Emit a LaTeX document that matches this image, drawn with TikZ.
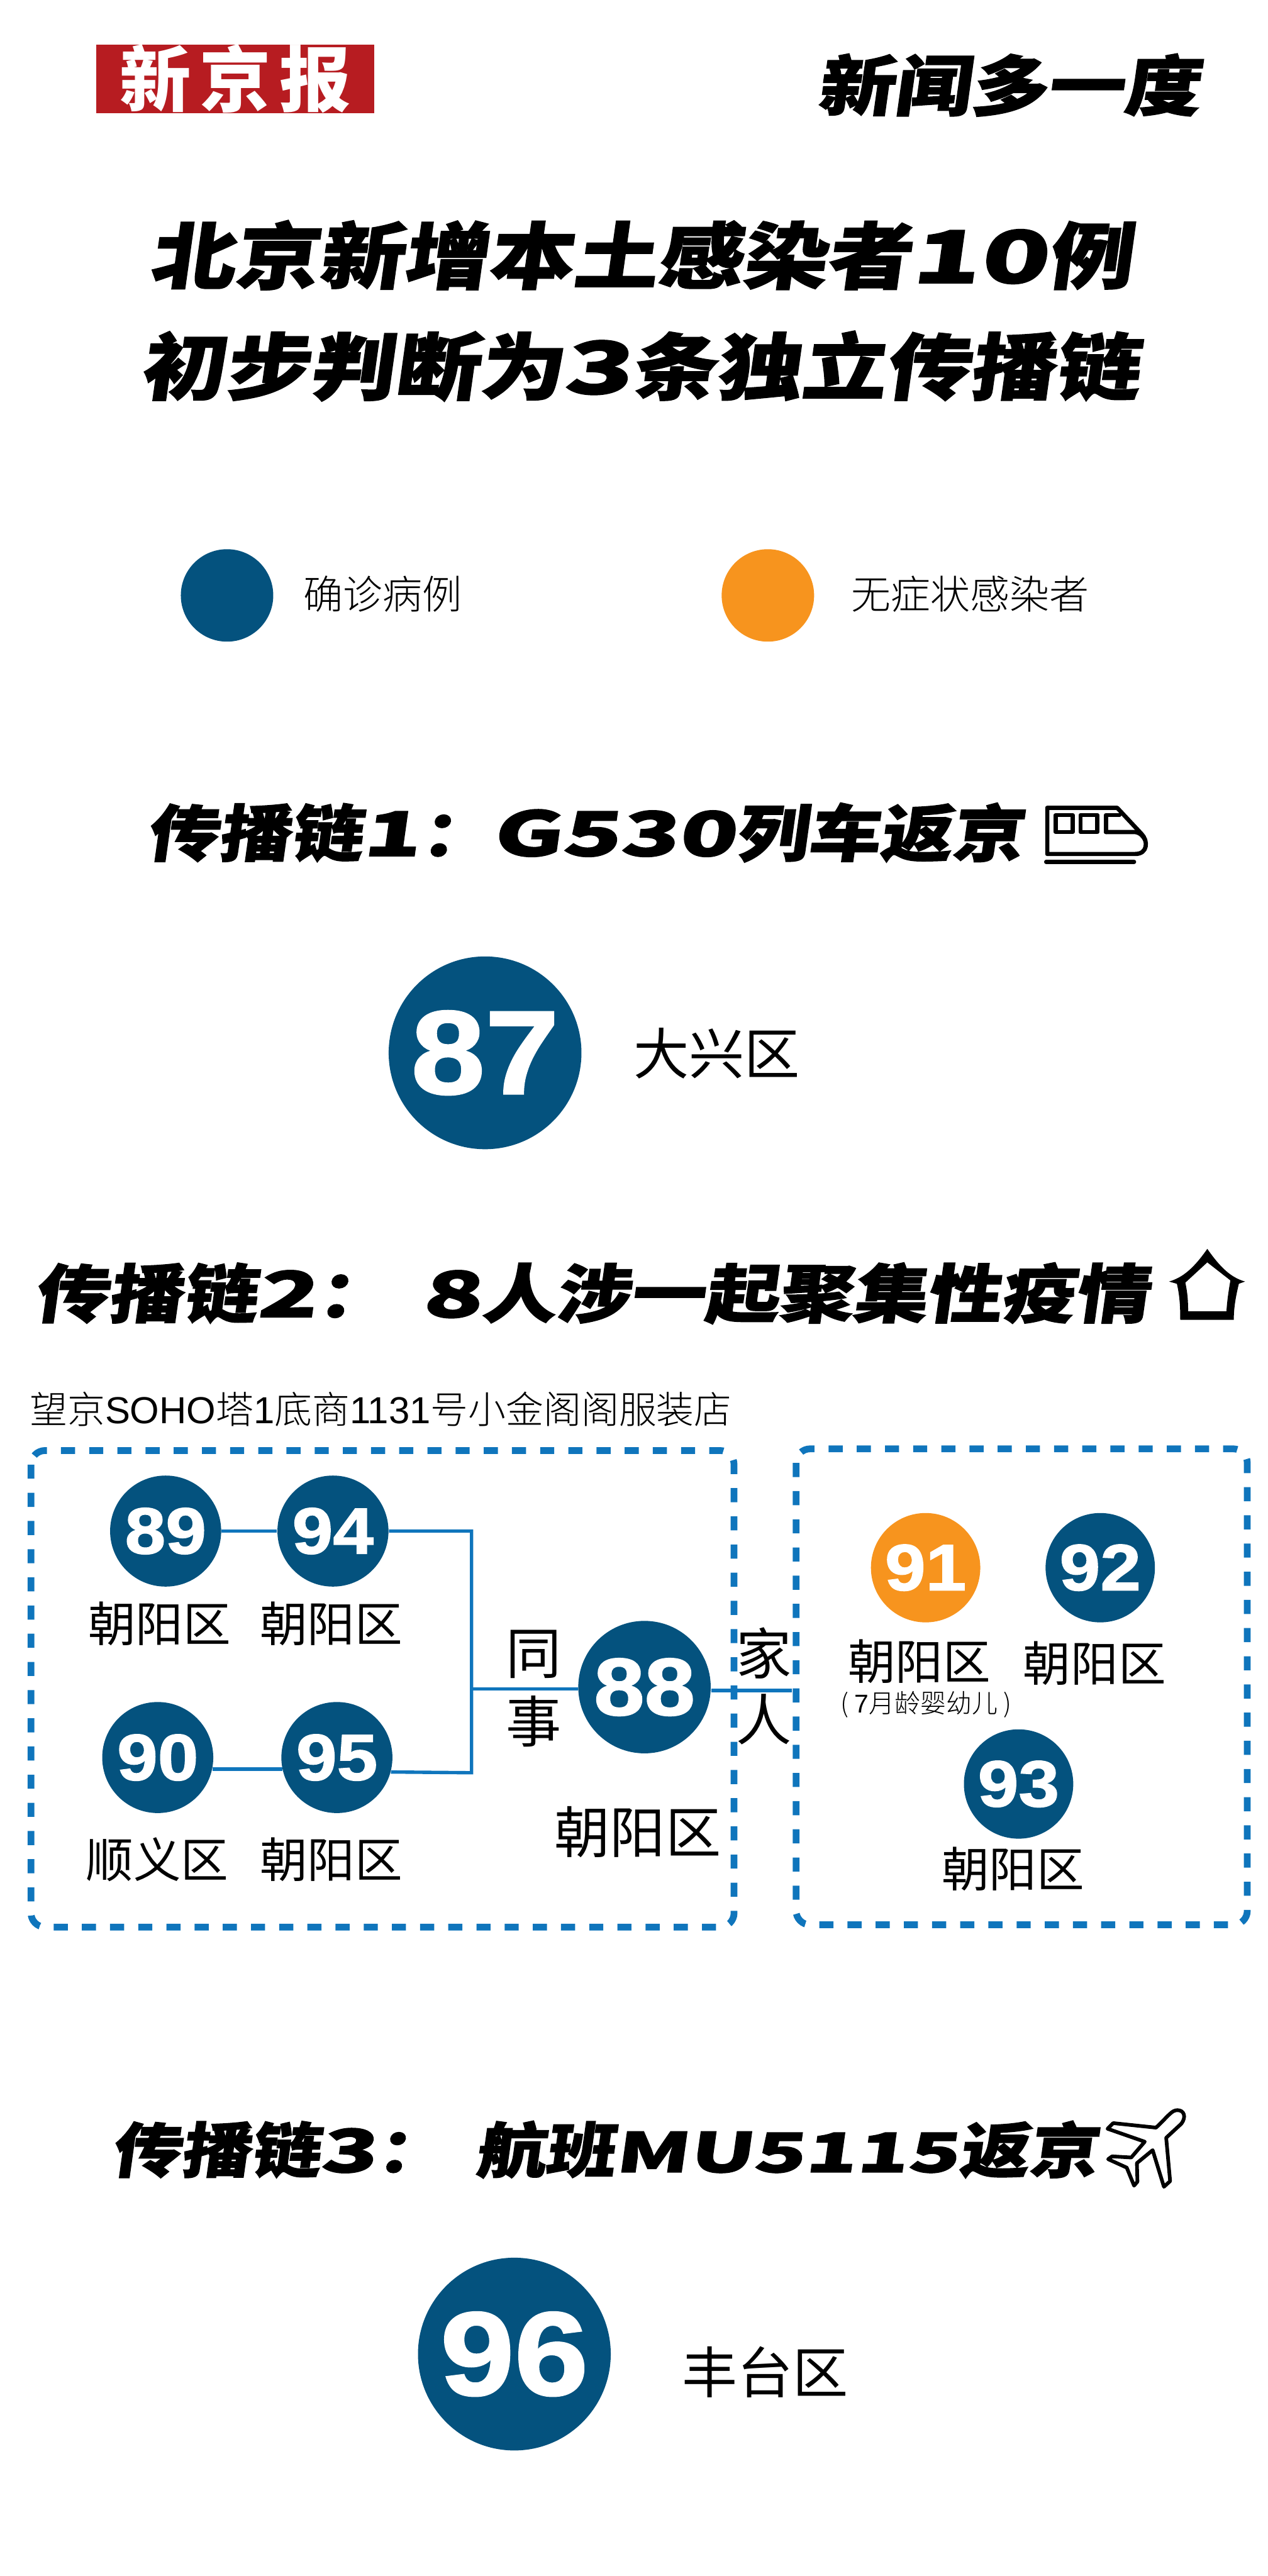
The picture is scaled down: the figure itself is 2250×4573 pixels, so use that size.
\documentclass[tikz,border=0pt]{standalone}
\usepackage{fontspec}
\usepackage{xcolor}
\setmainfont{Noto Sans CJK SC}
\newfontfamily\blackfont[FakeSlant=0.14,FakeStretch=1.17,FakeBold=1.6]{Noto Sans CJK SC Black}
\newfontfamily\widefont[FakeSlant=0.14,FakeStretch=1.55,FakeBold=1.6]{Noto Sans CJK SC Black}
\newfontfamily\lightfont{Noto Sans CJK SC Light}
\newfontfamily\numfont[FakeStretch=1.12,FakeBold=1.5]{Liberation Sans Bold}
\newfontfamily\arialfont{Liberation Sans}
\definecolor{navy}{HTML}{04527E}
\definecolor{amber}{HTML}{F7941E}
\definecolor{logored}{HTML}{B71C21}
\definecolor{boxblue}{HTML}{0F75BC}
\newcommand{\wide}[1]{{\widefont #1}}
\tikzset{
    headline/.style={inner sep=0, font=\blackfont\fontsize{36.5}{36.5}\selectfont},
    chain/.style={inner sep=0, font=\blackfont\fontsize{31}{31}\selectfont},
    legend/.style={inner sep=0, font=\lightfont\fontsize{20}{20}\selectfont},
    place/.style={inner sep=0, font=\fontsize{24}{24}\selectfont},
    bigplace/.style={inner sep=0, font=\fontsize{28}{28}\selectfont},
    case/.style={circle, fill=navy, text=white, inner sep=0, minimum size=1.97cm, font=\numfont\fontsize{33}{33}\selectfont},
    bigcase/.style={case, minimum size=3.42cm, font=\numfont\fontsize{60}{60}\selectfont},
    dashbox/.style={draw=boxblue, line width=0.12cm, dash pattern=on 0.25cm off 0.25cm, rounded corners=0.25cm},
    link/.style={draw=boxblue, line width=0.06cm},
    icon/.style={line width=0.075cm, line join=round, line cap=round},
}
\begin{document}
\begin{tikzpicture}[x=0.01cm, y=-0.01cm]
    \useasboundingbox (0,0) rectangle (2250,4573);
    % masthead
    \node[fill=logored, minimum width=4.93cm, minimum height=1.22cm, inner sep=0, text=white,
        font=\bfseries\fontsize{36}{36}\selectfont] (logo) at (418,140) {新\hspace{0.12em}京\hspace{0.12em}报};
    \node[chain, font=\blackfont\fontsize{33}{33}\selectfont] (column) at (1790,151) {新闻多一度};
    \node[headline] (title1) at (1137,453) {北京新增本土感染者\wide{10}例};
    \node[headline] (title2) at (1135,650) {初步判断为\wide{3}条独立传播链};
    % legend
    \node[circle, fill=navy, minimum size=1.64cm, inner sep=0] (keya) at (403,1057) {};
    \node[legend] (keyatext) at (679,1055) {确诊病例};
    \node[circle, fill=amber, minimum size=1.64cm, inner sep=0] (keyb) at (1363,1057) {};
    \node[legend] (keybtext) at (1722,1055) {无症状感染者};
    % chain 1
    \node[chain] (chain1) at (1038,1478) {传播链\wide{1}：\wide{G530}列车返京};
    \draw[icon] (1859,1434) -- (1983,1434) -- (2026,1480) .. controls (2038,1492) and (2038,1516) .. (2015,1516) -- (1859,1516) -- cycle;
    \draw[icon] (1963,1477) -- (2013,1477) .. controls (2024,1477) and (2030,1486) .. (2033,1492);
    \draw[icon] (1874,1447) rectangle (1904,1477);
    \draw[icon] (1918,1447) rectangle (1948,1477);
    \draw[icon] (1987,1447) -- (1963,1447) -- (1963,1477);
    \draw[icon] (1857,1530) -- (2013,1530);
    \node[bigcase] (n87) at (861,1869) {87};
    \node[bigplace] (n87place) at (1272,1870) {大兴区};
    % chain 2
    \node[chain, font=\blackfont\fontsize{32}{32}\selectfont] (chain2) at (1050,2296) {传播链\wide{2}：\hspace{0.55cm}\wide{8}人涉一起聚集性疫情};
    \fill[even odd rule] (2143,2217) .. controls (2120,2250) and (2100,2268) .. (2075,2275) -- (2089,2279) .. controls (2094,2300) and (2095,2320) .. (2095,2343)
        -- (2190,2343) .. controls (2190,2320) and (2194,2300) .. (2199,2279) -- (2210,2275) .. controls (2185,2268) and (2166,2250) .. (2143,2217)
        (2143,2241) -- (2104,2277) .. controls (2108,2295) and (2109,2310) .. (2109,2328) -- (2177,2328) .. controls (2178,2310) and (2181,2290) .. (2184,2273) -- cycle;
    \node[legend, font=\lightfont\fontsize{19}{19}\selectfont] (shop) at (676,2502) {望京{\arialfont SOHO}塔{\arialfont 1}底商{\arialfont 1131}号小金阁阁服装店};
    \draw[dashbox] (55,2575) rectangle (1303,3421);
    \draw[dashbox] (1413,2572) rectangle (2214,3417);
    \node[case] (n89) at (294,2718) {89};
    \node[case] (n94) at (591,2718) {94};
    \node[case] (n90) at (280,3120) {90};
    \node[case] (n95) at (598,3120) {95};
    \node[case, minimum size=2.35cm, font=\numfont\fontsize{41}{41}\selectfont] (n88) at (1144,2995) {88};
    \node[case, fill=amber, minimum size=1.94cm] (n91) at (1643,2783) {91};
    \node[case, minimum size=1.94cm] (n92) at (1953,2783) {92};
    \node[case, minimum size=1.94cm] (n93) at (1808,3167) {93};
    \coordinate (top) at (837,2718);
    \coordinate (bottom) at (837,3147);
    \coordinate (mid) at (837,2998);
    \coordinate (family) at (1406,3001);
    \draw[link] (n89) -- (n94);
    \draw[link] (n94) -- (top) -- (bottom) -- (n95.-15);
    \draw[link] (n90.-12) -- (n95.192);
    \draw[link] (mid) -- (n88.west |- mid);
    \draw[link] (n88.east |- family) -- (family);
    \node[place] (p89) at (283,2882) {朝阳区};
    \node[place] (p94) at (588,2882) {朝阳区};
    \node[place] (p90) at (279,3301) {顺义区};
    \node[place] (p95) at (588,3301) {朝阳区};
    \node[bigplace] (p88) at (1132,3252) {朝阳区};
    \node[place] (p91) at (1632,2949) {朝阳区};
    \node[place] (p92) at (1943,2953) {朝阳区};
    \node[legend, font=\lightfont\fontsize{13}{13}\selectfont] (baby) at (1644,3026) {( {\arialfont 7}月龄婴幼儿 )};
    \node[place] (p93) at (1798,3318) {朝阳区};
    \node[bigplace] (tong) at (947,2937) {同};
    \node[bigplace] (shi) at (947,3056) {事};
    \node[bigplace] (jia) at (1356,2935) {家};
    \node[bigplace] (ren) at (1356,3052) {人};
    % chain 3
    \node[chain, font=\blackfont\fontsize{30}{30}\selectfont] (chain3) at (1073,3816) {传播链\wide{3}：\hspace{0.53cm}航班{\widefont\fontsize{27.5}{27.5}\selectfont MU5115}返京};
    \draw[icon, line width=0.065cm] (2052,3777) -- (1976,3769) -- (1966,3779) -- (2032,3802) -- (2008,3830) -- (1974,3828) -- (1967,3833) -- (2000,3848) -- (2013,3880) -- (2019,3873) -- (2018,3840) -- (2046,3817) -- (2066,3882) -- (2077,3872) -- (2070,3795) -- (2097,3770)
        .. controls (2106,3758) and (2102,3746) .. (2090,3746) .. controls (2080,3746) and (2075,3755) .. (2052,3777) -- cycle;
    \node[bigcase] (n96) at (913,4179) {96};
    \node[bigplace] (n96place) at (1358,4211) {丰台区};
\end{tikzpicture}
\end{document}
